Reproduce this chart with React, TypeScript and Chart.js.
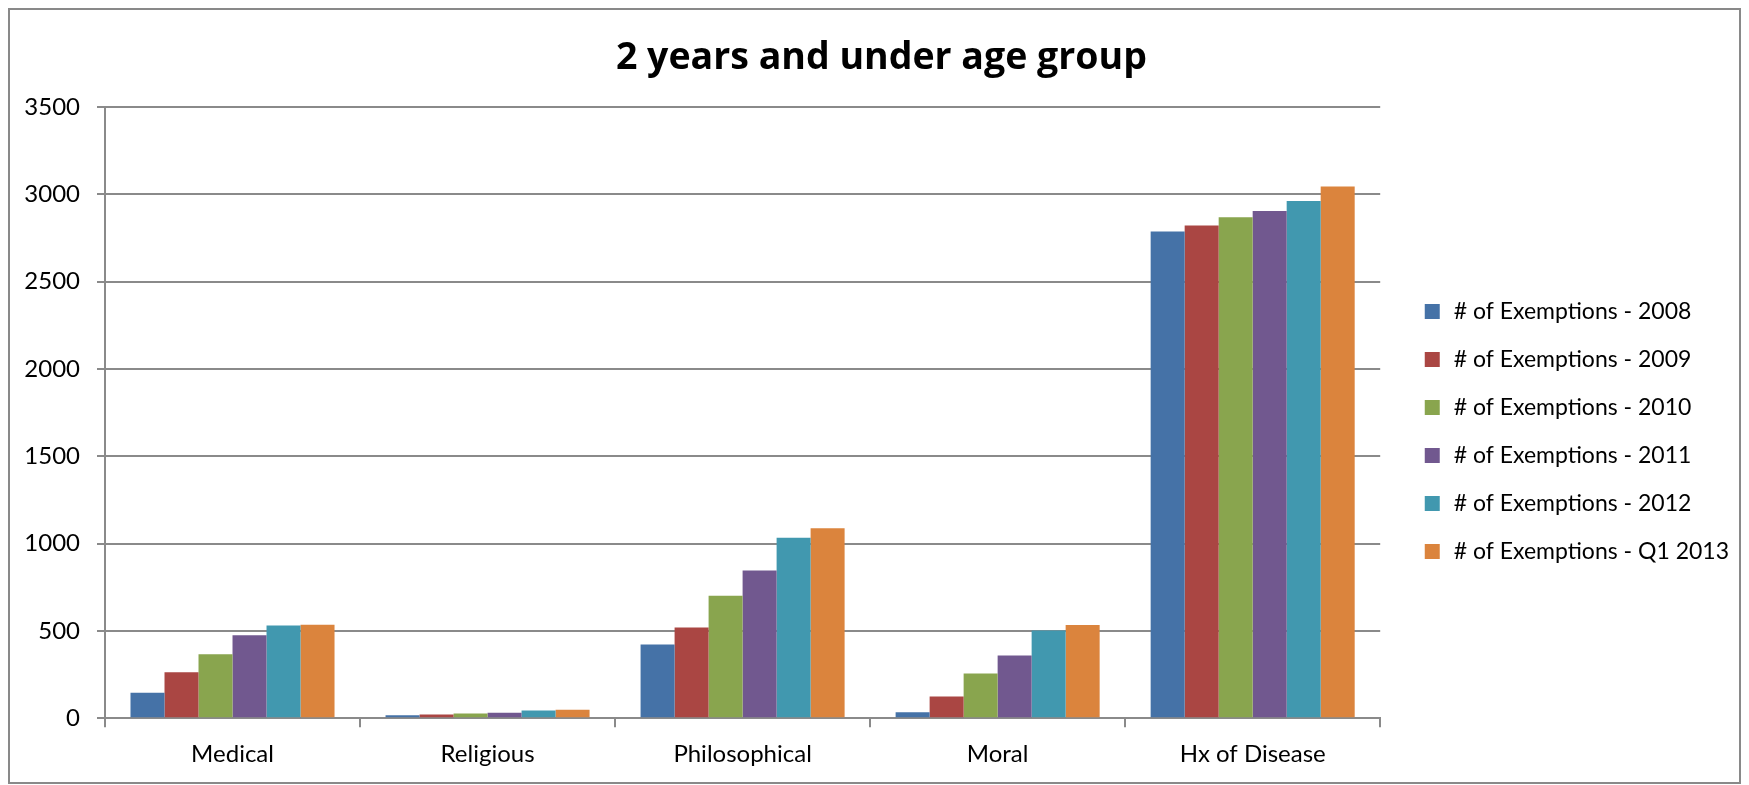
import React, { useEffect, useRef } from "react";
import { Chart, registerables } from "chart.js";

Chart.register(...registerables);

const titleText = "2 years and under age group";
const categories = ["Medical", "Religious", "Philosophical", "Moral", "Hx of Disease"];
const seriesLabels = [
  "# of Exemptions - 2008",
  "# of Exemptions - 2009",
  "# of Exemptions - 2010",
  "# of Exemptions - 2011",
  "# of Exemptions - 2012",
  "# of Exemptions - Q1 2013",
];
const values2008 = [146, 17, 422, 34, 2787];
const values2009 = [263, 21, 520, 124, 2822];
const values2010 = [366, 27, 701, 256, 2868];
const values2011 = [475, 31, 846, 359, 2904];
const values2012 = [531, 44, 1033, 502, 2961];
const valuesQ12013 = [535, 48, 1088, 533, 3045];
const seriesColors = ["#4572A7", "#AA4643", "#89A54E", "#71588F", "#4198AF", "#DB843D"];
const yMin = 0;
const yMax = 3500;
const yStep = 500;

const FONT = "Lato, 'Open Sans', sans-serif";
const TITLE_FONT = "'Open Sans', Lato, sans-serif";
const GRID = "#8a8a8a";

function makeMarker(color: string) {
  const c = document.createElement("canvas");
  c.width = 40;
  c.height = 15;
  const g = c.getContext("2d");
  if (g) {
    g.fillStyle = color;
    g.fillRect(21, 0, 15, 15);
  }
  return c;
}

export default function App() {
  const canvasRef = useRef<HTMLCanvasElement | null>(null);

  useEffect(() => {
    if (!canvasRef.current) return;
    const allValues = [values2008, values2009, values2010, values2011, values2012, valuesQ12013];
    const markers = seriesColors.map(makeMarker);
    const titlePlugin = {
      id: "customTitle",
      afterDraw(chart: any) {
        const ctx = chart.ctx;
        ctx.save();
        ctx.font = `bold 37.5px ${TITLE_FONT}`;
        ctx.fillStyle = "#000";
        ctx.textAlign = "center";
        ctx.textBaseline = "alphabetic";
        ctx.fillText(titleText, chart.width * 0.504, 59);
        ctx.restore();
      },
    };
    const chart = new Chart(canvasRef.current, {
      type: "bar",
      data: {
        labels: categories,
        datasets: seriesLabels.map((label, i) => ({
          label,
          data: allValues[i],
          backgroundColor: seriesColors[i],
          borderWidth: 0,
          barPercentage: 1,
          categoryPercentage: 0.8,
        })),
      },
      options: {
        animation: false,
        responsive: true,
        maintainAspectRatio: false,
        layout: { padding: { top: 97, right: 0, bottom: 0, left: 0 } },
        plugins: {
          title: { display: false },
          tooltip: { enabled: false },
          legend: {
            position: "right",
            align: "start",
            title: {
              display: true,
              text: " ",
              color: "rgba(0,0,0,0)",
              font: { size: 10 },
              padding: { top: 156, bottom: 0 },
            },
            labels: {
              usePointStyle: true,
              pointStyleWidth: 37,
              boxHeight: 15,
              padding: 25,
              color: "#000",
              font: { family: FONT, size: 23 },
              generateLabels: (c: any) =>
                Chart.defaults.plugins.legend.labels
                  .generateLabels(c)
                  .map((item: any, i: number) => ({ ...item, pointStyle: markers[i] })),
            },
          },
        },
        scales: {
          x: {
            grid: {
              display: true,
              drawOnChartArea: false,
              drawTicks: true,
              tickLength: 9,
              color: GRID,
              lineWidth: 2,
              offset: true,
            },
            border: { display: true, color: GRID, width: 2 },
            ticks: {
              color: "#000",
              padding: 13,
              font: { family: FONT, size: 24 },
              maxRotation: 0,
            },
          },
          y: {
            min: yMin,
            max: yMax,
            afterFit: (s: any) => {
              s.width = 95;
            },
            grid: {
              color: GRID,
              lineWidth: 2,
              drawTicks: true,
              tickLength: 8,
            },
            border: { display: true, color: GRID, width: 2 },
            ticks: {
              stepSize: yStep,
              color: "#000",
              padding: 17,
              font: { family: FONT, size: 24 },
              callback: (v: any) => String(v),
            },
          },
        },
      },
      plugins: [titlePlugin],
    });
    return () => chart.destroy();
  }, []);

  return (
    <div
      style={{
        width: 1733,
        height: 776,
        border: "2px solid #898989",
        boxSizing: "border-box",
        background: "#fff",
      }}
    >
      <div style={{ position: "relative", width: 1729, height: 772 }}>
        <canvas ref={canvasRef} />
      </div>
    </div>
  );
}
